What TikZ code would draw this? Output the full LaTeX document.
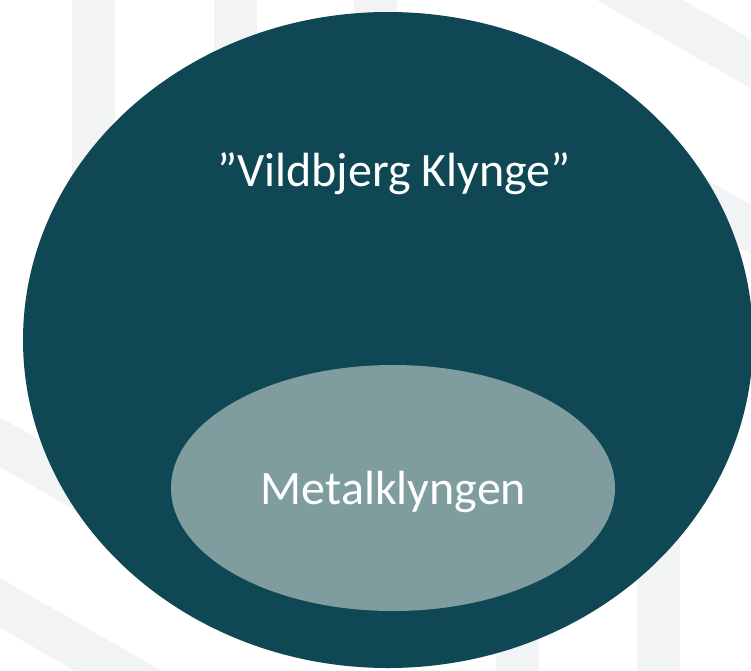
\documentclass[tikz,border=0pt]{standalone}
\usepackage{fontspec}
\setmainfont{Carlito}
\usetikzlibrary{shapes.geometric}
\definecolor{stripe}{HTML}{F2F3F5}
\definecolor{darkteal}{HTML}{0F4854}
\definecolor{paleteal}{HTML}{7F9C9F}
\tikzset{
  bgstripe/.style={draw=stripe, line width=43pt, line cap=butt},
  blob/.style={ellipse, draw=none, inner sep=0pt, outer sep=0pt},
  label/.style={text=white, anchor=base, inner sep=0pt, font=\fontsize{48}{57}\selectfont}
}
\begin{document}
\begin{tikzpicture}[x=1pt,y=-1pt]
\useasboundingbox (0,0) rectangle (751,670);
\clip (0,0) rectangle (751,670);
\fill[white] (0,0) rectangle (751,670);
% background stripes
\draw[bgstripe] (93,-10) -- (93,470);
\draw[bgstripe] (235,-10) -- (235,300);
\draw[bgstripe] (375,-10) -- (375,200);
\draw[bgstripe] (517,700) -- (517,400);
\draw[bgstripe] (658,700) -- (658,300);
\draw[bgstripe] (600,-23) -- (800,92);
\draw[bgstripe] (640,166) -- (800,258);
\draw[bgstripe] (-50,413) -- (150,529);
\draw[bgstripe] (-50,574) -- (200,718);
% ellipses
\node[blob, fill=darkteal, minimum width=730pt, minimum height=656pt] (outer) at (388,340) {};
\node[blob, fill=paleteal, minimum width=444pt, minimum height=246pt] (inner) at (393,488) {};
% labels
\node[label] (vild) at (394,186) {”Vildbjerg Klynge”};
\node[label] (metal) at (393.5,504) {Metalklyngen};
\end{tikzpicture}
\end{document}
